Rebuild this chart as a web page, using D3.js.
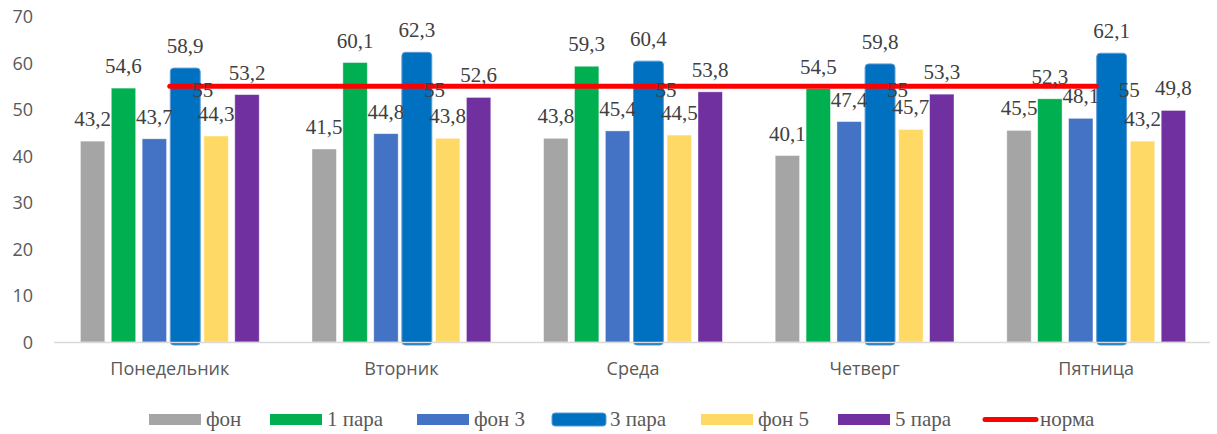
<!DOCTYPE html>
<html>
<head>
<meta charset="utf-8">
<script src="https://cdn.jsdelivr.net/npm/d3@7"></script>
<style>
  html, body { margin: 0; padding: 0; background: #fff; }
  svg { display: block; }
</style>
</head>
<body>
<svg id="chart" width="1217" height="434"></svg>
<script>
// Weekdays and measured series
const days = ["Понедельник", "Вторник", "Среда", "Четверг", "Пятница"];
const seriesNames = ["фон", "1 пара", "фон 3", "3 пара", "фон 5", "5 пара"];
const fon   = [43.2, 41.5, 43.8, 40.1, 45.5];
const para1 = [54.6, 60.1, 59.3, 54.5, 52.3];
const fon3  = [43.7, 44.8, 45.4, 47.4, 48.1];
const para3 = [58.9, 62.3, 60.4, 59.8, 62.1];
const fon5  = [44.3, 43.8, 44.5, 45.7, 43.2];
const para5 = [53.2, 52.6, 53.8, 53.3, 49.8];
const norma = [55, 55, 55, 55, 55];
const normaName = "норма";
const yTicks = [0, 10, 20, 30, 40, 50, 60, 70];

const seriesValues = [fon, para1, fon3, para3, fon5, para5];
const colors = ["#A5A5A5", "#00B050", "#4472C4", "#0070C0", "#FFD966", "#7030A0"];
const normaColor = "#FF0000";

const svg = d3.select("#chart");

const plot = { left: 54, right: 1212, top: 16.5, bottom: 342 };

const x0 = d3.scaleBand()
  .domain(days)
  .range([plot.left, plot.right])
  .paddingInner(0.2)
  .paddingOuter(0.1);

const x1 = d3.scaleBand()
  .domain(seriesNames)
  .range([0, x0.bandwidth()])
  .paddingInner(0.21)
  .paddingOuter(0.105);

const y = d3.scaleLinear().domain([0, 70]).range([plot.bottom, plot.top]);

const axisFont = "'Open Sans', sans-serif";

// Y axis labels (no axis line, no ticks)
const yAxis = d3.axisLeft(y).tickValues(yTicks).tickSize(0).tickPadding(0);
const yG = svg.append("g")
  .attr("transform", "translate(33,0)")
  .call(yAxis);
yG.select(".domain").remove();
yG.selectAll("text")
  .attr("font-family", axisFont)
  .attr("font-size", 18)
  .attr("fill", "#595959")
  .attr("dy", "0.36em");

// Bars
const groups = svg.append("g").selectAll("g")
  .data(days)
  .join("g")
  .attr("transform", d => `translate(${x0(d)},0)`);

seriesNames.forEach((name, si) => {
  const vals = seriesValues[si];
  groups.append("rect")
    .attr("class", "bar")
    .each(function(d, di) {
      const v = vals[di];
      const sel = d3.select(this);
      if (name === "3 пара") {
        const w = x1.bandwidth() + 5.5;
        sel.attr("x", x1(name) - 2.75)
          .attr("width", w)
          .attr("y", y(v))
          .attr("height", y(0) - y(v) + 3)
          .attr("rx", 3.5)
          .attr("fill", colors[si])
          .attr("stroke", "#5B9BD5")
          .attr("stroke-width", 1);
      } else {
        sel.attr("x", x1(name))
          .attr("width", x1.bandwidth())
          .attr("y", y(v))
          .attr("height", y(0) - y(v))
          .attr("fill", colors[si])
          .attr("stroke", "rgba(255,255,255,0.5)")
          .attr("stroke-width", 0.8);
      }
    });
});

// Category axis line
svg.append("line")
  .attr("x1", plot.left).attr("x2", plot.right - 2)
  .attr("y1", y(0) + 0.5).attr("y2", y(0) + 0.5)
  .attr("stroke", "#D9D9D9")
  .attr("stroke-width", 1.5);

// Category labels
const xAxis = d3.axisBottom(x0).tickSize(0).tickPadding(0);
const xG = svg.append("g")
  .attr("transform", `translate(0,${plot.bottom})`)
  .call(xAxis);
xG.select(".domain").remove();
xG.selectAll("text")
  .attr("font-family", axisFont)
  .attr("font-size", 18)
  .attr("fill", "#595959")
  .attr("dy", null)
  .attr("y", 33);

// Norm line
const cx = d => x0(d) + x0.bandwidth() / 2;
const line = d3.line()
  .x((v, i) => cx(days[i]))
  .y(v => y(v));
svg.append("path")
  .datum(norma)
  .attr("d", line)
  .attr("fill", "none")
  .attr("stroke", normaColor)
  .attr("stroke-width", 5)
  .attr("stroke-linecap", "round");

// Value labels for bars
const labelFont = "'Liberation Serif', 'Times New Roman', serif";
seriesNames.forEach((name, si) => {
  const vals = seriesValues[si];
  svg.append("g").selectAll("text")
    .data(days)
    .join("text")
    .attr("x", d => x0(d) + x1(name) + x1.bandwidth() / 2)
    .attr("y", (d, di) => y(vals[di]) - 15)
    .attr("text-anchor", "middle")
    .attr("font-family", labelFont)
    .attr("font-size", 21)
    .attr("fill", "#404040")
    .text((d, di) => String(vals[di]).replace(".", ","));
});

// Norm labels
svg.append("g").selectAll("text")
  .data(days)
  .join("text")
  .attr("x", d => cx(d) + 22.5)
  .attr("y", (d, i) => y(norma[i]) + 10.5)
  .attr("font-family", labelFont)
  .attr("font-size", 21)
  .attr("fill", "#404040")
  .text((d, i) => String(norma[i]).replace(".", ","));

// Legend
const legendItems = [
  { name: "фон", x: 149 },
  { name: "1 пара", x: 270 },
  { name: "фон 3", x: 417 },
  { name: "3 пара", x: 552 },
  { name: "фон 5", x: 701 },
  { name: "5 пара", x: 838 }
];
const legend = svg.append("g");
legendItems.forEach((it, i) => {
  if (it.name === "3 пара") {
    legend.append("rect")
      .attr("x", it.x).attr("y", 413)
      .attr("width", 54).attr("height", 13)
      .attr("rx", 3)
      .attr("fill", colors[i])
      .attr("stroke", "#5B9BD5").attr("stroke-width", 1);
    legend.append("text")
      .attr("x", it.x + 58).attr("y", 426)
      .attr("font-family", labelFont).attr("font-size", 21)
      .attr("fill", "#595959").text(it.name);
  } else {
    legend.append("rect")
      .attr("x", it.x).attr("y", 414)
      .attr("width", 52).attr("height", 11)
      .attr("fill", colors[i]);
    legend.append("text")
      .attr("x", it.x + 57).attr("y", 426)
      .attr("font-family", labelFont).attr("font-size", 21)
      .attr("fill", "#595959").text(it.name);
  }
});
legend.append("line")
  .attr("x1", 985).attr("x2", 1036)
  .attr("y1", 419.5).attr("y2", 419.5)
  .attr("stroke", normaColor).attr("stroke-width", 5)
  .attr("stroke-linecap", "round");
legend.append("text")
  .attr("x", 1040).attr("y", 426)
  .attr("font-family", labelFont).attr("font-size", 21)
  .attr("fill", "#595959").text(normaName);
</script>
</body>
</html>
